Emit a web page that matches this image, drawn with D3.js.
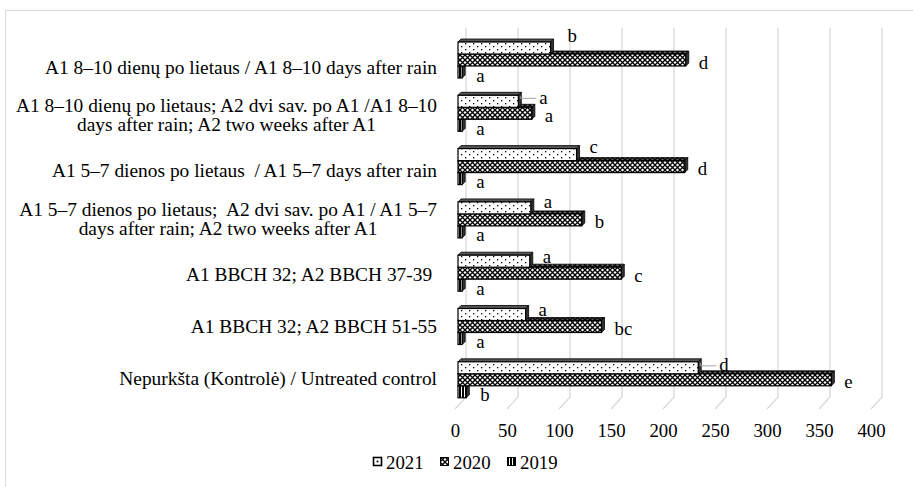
<!DOCTYPE html>
<html>
<head>
<meta charset="utf-8">
<script src="https://cdn.jsdelivr.net/npm/d3@7"></script>
<style>
  html, body { margin: 0; padding: 0; background: #fff; }
  svg text { font-family: "Liberation Serif", "Times New Roman", serif; fill: #000; white-space: pre; }
</style>
</head>
<body>
<svg id="chart" width="913" height="487"></svg>
<script>
// Treatments, top to bottom (label lines)
const categories = [
  ["A1 8–10 dienų po lietaus / A1 8–10 days after rain"],
  ["A1 8–10 dienų po lietaus; A2 dvi sav. po A1 /A1 8–10", "days after rain; A2 two weeks after A1"],
  ["A1 5–7 dienos po lietaus  / A1 5–7 days after rain"],
  ["A1 5–7 dienos po lietaus;  A2 dvi sav. po A1 / A1 5–7", "days after rain; A2 two weeks after A1"],
  ["A1 BBCH 32; A2 BBCH 37-39 "],
  ["A1 BBCH 32; A2 BBCH 51-55"],
  ["Nepurkšta (Kontrolė) / Untreated control"]
];
const years = ["2021", "2020", "2019"];
const values2021 = [89, 58, 114, 70, 69, 65, 231];
const values2020 = [219, 71, 218, 119, 157, 138, 359];
const values2019 = [4, 4, 4, 4, 4, 4, 8];
const letters2021 = ["b", "a", "c", "a", "a", "a", "d"];
const letters2020 = ["d", "a", "d", "b", "c", "bc", "e"];
const letters2019 = ["a", "a", "a", "a", "a", "a", "b"];
const xTicks = [0, 50, 100, 150, 200, 250, 300, 350, 400];

const svg = d3.select("#chart");
const defs = svg.append("defs");

// ---- fill patterns ----
const pDots = defs.append("pattern").attr("id", "pDots").attr("patternUnits", "userSpaceOnUse")
  .attr("width", 8).attr("height", 6);
pDots.append("rect").attr("width", 8).attr("height", 6).attr("fill", "#fff");
pDots.append("rect").attr("x", 1).attr("y", 1).attr("width", 1.3).attr("height", 1.3).attr("fill", "#000");
pDots.append("rect").attr("x", 5).attr("y", 4).attr("width", 1.3).attr("height", 1.3).attr("fill", "#000");

const pLattice = defs.append("pattern").attr("id", "pLattice").attr("patternUnits", "userSpaceOnUse")
  .attr("width", 5).attr("height", 5);
pLattice.append("rect").attr("width", 5).attr("height", 5).attr("fill", "#fff");
pLattice.append("path").attr("d", "M0,0L5,5M5,0L0,5").attr("stroke", "#000").attr("stroke-width", 1.3);

const pLatticeDark = defs.append("pattern").attr("id", "pLatticeDark").attr("patternUnits", "userSpaceOnUse")
  .attr("width", 5).attr("height", 5);
pLatticeDark.append("rect").attr("width", 5).attr("height", 5).attr("fill", "#666");
pLatticeDark.append("path").attr("d", "M0,0L5,5M5,0L0,5").attr("stroke", "#000").attr("stroke-width", 1.3);

const pStripes = defs.append("pattern").attr("id", "pStripes").attr("patternUnits", "userSpaceOnUse")
  .attr("width", 3).attr("height", 3);
pStripes.append("rect").attr("width", 3).attr("height", 3).attr("fill", "#fff");
pStripes.append("rect").attr("width", 2).attr("height", 3).attr("fill", "#000");

const fronts = { "2021": "url(#pDots)", "2020": "url(#pLattice)", "2019": "url(#pStripes)" };
const tops = { "2021": "#555", "2020": "url(#pLatticeDark)", "2019": "#222" };

// ---- chart frame ----
svg.append("rect").attr("x", 5.5).attr("y", 10.5).attr("width", 940).attr("height", 520)
  .attr("fill", "none").attr("stroke", "#d9d9d9");

// ---- scales ----
const barDepth = 3;    // bar depth offset
const xBack = d3.scaleLinear().domain([0, 400]).range([466, 882]);
const xFront = d3.scaleLinear().domain([0, 400]).range([455, 871]);
const xBar = d3.scaleLinear().domain([0, 400]).range([458, 874]);
const wallTop = 28, wallBottom = 397;

const idx = d3.range(categories.length);
const yGroup = d3.scaleBand().domain(idx).range([39, 39 + 53.3 * categories.length]);
const yLabel = d3.scalePoint().domain(idx).range([67, 378]);
const barH = 12;
const ySeries = d3.scaleBand().domain(years).range([barDepth, barDepth + 3 * barH]);

// ---- gridlines: back wall + floor ----
const grid = svg.append("g");
xTicks.forEach(t => {
  grid.append("path")
    .attr("d", `M${xBack(t)},${wallTop}V${wallBottom}L${xFront(t)},${wallBottom + 12}`)
    .attr("fill", "none").attr("stroke", "#d9d9d9").attr("stroke-width", 1.3);
});

// ---- value axis labels ----
const xAxis = d3.axisBottom(xFront).tickValues(xTicks).tickSize(0).tickPadding(0).tickFormat(d3.format("d"));
const axisG = svg.append("g").attr("transform", "translate(0,424)").call(xAxis);
axisG.select(".domain").remove();
axisG.selectAll("text").attr("font-size", 18.8).attr("dy", "0.71em").attr("y", 0)
  .style("font-family", '"Liberation Serif", "Times New Roman", serif');

// ---- category labels ----
const catG = svg.append("g");
categories.forEach((lines, i) => {
  const g = catG.append("g");
  const lh = 19.5;
  const shift = lines.length > 1 ? -4 : 0;
  const texts = lines.map((ln, j) => g.append("text").attr("font-size", 19.4)
    .attr("y", yLabel(i) + shift + (j - (lines.length - 1) / 2) * lh).attr("dy", "0.35em").text(ln));
  const widths = texts.map(t => t.node().getComputedTextLength());
  const bw = d3.max(widths);
  const right = 437;
  texts.forEach(t => t.attr("x", right - bw / 2).attr("text-anchor", "middle"));
});

// ---- 3D bars ----
function drawBar(g, year, v, top) {
  const x0 = xBar(0), x1 = xBar(v), d = barDepth;
  // top face
  g.append("path").attr("d", `M${x0},${top}L${x0 + d},${top - d}L${x1 + d},${top - d}L${x1},${top}Z`)
    .attr("fill", tops[year]).attr("stroke", "#000").attr("stroke-width", 0.8);
  // side face
  g.append("path").attr("d", `M${x1},${top}L${x1 + d},${top - d}L${x1 + d},${top + barH - d}L${x1},${top + barH}Z`)
    .attr("fill", "#333").attr("stroke", "#000").attr("stroke-width", 0.8);
  // front face
  g.append("rect").attr("x", x0).attr("y", top).attr("width", x1 - x0).attr("height", barH)
    .attr("fill", fronts[year]).attr("stroke", "#000").attr("stroke-width", 1.2);
}

const series = { "2021": values2021, "2020": values2020, "2019": values2019 };
const barsG = svg.append("g");
idx.forEach(i => {
  const g = barsG.append("g");
  // lowest series first so the upper bars cover its top face
  ["2019", "2020", "2021"].forEach(y => drawBar(g, y, series[y][i], yGroup(i) + ySeries(y)));
});

// ---- significance letters ----
const lblG = svg.append("g");
const fs = 18.8;
// letters for 2021 sit slightly above their bar; some carry a leader line
const lift2021 = [13, 4, 8, 6, 5, 5, 3];
const leader2021 = [false, true, false, false, false, false, true];
idx.forEach(i => {
  const gTop = yGroup(i);
  // 2021
  {
    const top = gTop + ySeries("2021");
    const end = xBar(values2021[i]) + barDepth;
    const cy = top + barH / 2 - lift2021[i];
    let lx = end + (i === 0 ? 14 : 10);
    if (leader2021[i]) {
      lx = end + 18;
      lblG.append("path").attr("d", `M${end - 1},${top + 1}V${cy + 1}H${lx - 3}`)
        .attr("fill", "none").attr("stroke", "#a6a6a6").attr("stroke-width", 1);
    }
    lblG.append("text").attr("x", lx).attr("y", cy).attr("dy", "0.35em").attr("font-size", fs).text(letters2021[i]);
  }
  // 2020
  {
    const top = gTop + ySeries("2020");
    const end = xBar(values2020[i]) + barDepth;
    lblG.append("text").attr("x", end + 10).attr("y", top + barH / 2 + 2).attr("dy", "0.35em")
      .attr("font-size", fs).text(letters2020[i]);
  }
  // 2019
  {
    const top = gTop + ySeries("2019");
    const end = xBar(values2019[i]) + barDepth;
    lblG.append("text").attr("x", end + 11).attr("y", top + barH / 2 + 3).attr("dy", "0.35em")
      .attr("font-size", fs).text(letters2019[i]);
  }
});

// ---- legend ----
const legend = svg.append("g").attr("transform", "translate(0,462)");
const legendX = [373, 440, 507];
years.forEach((y, k) => {
  const lg = legend.append("g").attr("transform", `translate(${legendX[k]},0)`);
  lg.append("rect").attr("x", 0.5).attr("y", -4.5).attr("width", 8).attr("height", 8)
    .attr("fill", y === "2021" ? "#fff" : fronts[y]).attr("stroke", "#000").attr("stroke-width", y === "2021" ? 1.6 : 1);
  if (y === "2021") lg.append("rect").attr("x", 3.6).attr("y", -1.4).attr("width", 1.8).attr("height", 1.8).attr("fill", "#000");
  lg.append("text").attr("x", 13).attr("y", 0).attr("dy", "0.35em").attr("font-size", fs).text(y);
});
</script>
</body>
</html>
